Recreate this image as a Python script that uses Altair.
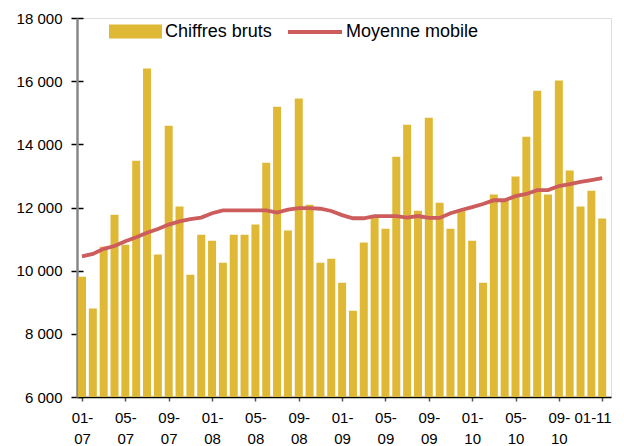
import altair as alt
import pandas as pd

# Monthly data, Jan 2007 -> Jan 2011
months = [f"{m:02d}-{y:02d}" for y in range(7, 12) for m in range(1, 13)][:49]
raw_values = [9810, 8800, 10760, 11770, 10820, 13480, 16400, 10510, 14590, 12030,
              9870, 11140, 10950, 10250, 11140, 11140, 11460, 13420, 15190, 11270,
              15450, 12090, 10250, 10380, 9620, 8730, 10890, 11710, 11330, 13610,
              14620, 11900, 14840, 12150, 11330, 11900, 10950, 9620, 12410, 12220,
              12980, 14240, 15700, 12410, 16020, 13170, 12030, 12530, 11650]
moving_avg = [10455, 10530, 10690, 10780, 10930, 11060, 11200, 11320, 11460, 11560,
              11630, 11680, 11820, 11910, 11910, 11910, 11910, 11910, 11840, 11930,
              11980, 11980, 11960, 11890, 11760, 11660, 11660, 11730, 11730, 11730,
              11680, 11730, 11670, 11670, 11820, 11920, 12010, 12110, 12230, 12230,
              12360, 12430, 12550, 12550, 12680, 12740, 12810, 12870, 12930]
x_tick_labels = [["01-", "07"], ["05-", "07"], ["09-", "07"],
                 ["01-", "08"], ["05-", "08"], ["09-", "08"],
                 ["01-", "09"], ["05-", "09"], ["09-", "09"],
                 ["01-", "10"], ["05-", "10"], ["09-", "10"],
                 ["01-11"]]
y_ticks = [6000, 8000, 10000, 12000, 14000, 16000, 18000]
bar_label = "Chiffres bruts"
line_label = "Moyenne mobile"

BAR_COLOR = "#DFB935"
LINE_COLOR = "#CD5C5C"
FONT = "Liberation Sans"

df = pd.DataFrame({
    "idx": list(range(len(months))),
    "mois": months,
    "brut": raw_values,
    "mm": moving_avg,
    "s_bar": bar_label,
    "s_line": line_label,
})

label_arr = "[" + ",".join("[" + ",".join(f"'{t}'" for t in lab) + "]" for lab in x_tick_labels) + "]"
x_expr = f"{label_arr}[round(datum.value/4)]"
y_expr = "replace(format(datum.value, ','), ',', ' ')"

x_scale = alt.Scale(domain=[0, 48.35], nice=False, zero=False)
y_scale = alt.Scale(domain=[6000, 18000], nice=False, zero=False)

x_axis_a = alt.Axis(orient="bottom", domain=False, offset=-5, tickSize=9, tickColor="#555555",
                    tickWidth=1.5, values=list(range(0, 49, 4)), labelExpr=x_expr,
                    labelFontSize=15, labelFont=FONT, labelColor="#000000", labelLineHeight=21.5,
                    labelPadding=9, labelFlush=False, labelOverlap=False, grid=False, title=None,
                    labelAlign={"condition": {"test": "datum.value == 48", "value": "right"},
                                "value": "center"},
                    labelOffset={"condition": {"test": "datum.value == 48", "value": 9},
                                 "value": 0})
x_axis_b = alt.Axis(orient="bottom", domain=True, domainColor="#000000", domainWidth=1.5,
                    ticks=False, labels=False, grid=False, title=None)
y_axis_a = alt.Axis(orient="left", domain=False, offset=-6, tickSize=12, tickColor="#000000",
                    tickWidth=1.5, values=y_ticks, labelExpr=y_expr, labelFontSize=15,
                    labelFont=FONT, labelColor="#000000", labelPadding=9, grid=False, title=None)
y_axis_b = alt.Axis(orient="left", domain=True, domainColor="#888888", domainWidth=2.5,
                    ticks=False, labels=False, grid=False, title=None)

bars = alt.Chart(df).mark_bar(size=8, clip=True, color=BAR_COLOR).encode(
    x=alt.X("idx:Q", scale=x_scale, axis=x_axis_a),
    y=alt.Y("brut:Q", scale=y_scale, axis=y_axis_a),
    color=alt.Color("s_bar:N", scale=alt.Scale(domain=[bar_label], range=[BAR_COLOR]),
                    legend=alt.Legend(orient="none", legendX=32, legendY=-13, title=None,
                                      symbolType="M-1,-0.264H1V0.264H-1Z", symbolSize=2809,
                                      symbolStrokeWidth=0, labelFontSize=18, labelFont=FONT,
                                      labelColor="#000000", labelOffset=3, padding=0)),
)

line = alt.Chart(df).mark_line(strokeWidth=3.8, color=LINE_COLOR).encode(
    x=alt.X("idx:Q", scale=x_scale, axis=x_axis_b),
    y=alt.Y("mm:Q", scale=y_scale, axis=y_axis_b),
    stroke=alt.Stroke("s_line:N", scale=alt.Scale(domain=[line_label], range=[LINE_COLOR]),
                      legend=alt.Legend(orient="none", legendX=209, legendY=-15, title=None,
                                        symbolType="stroke", symbolSize=2916, symbolStrokeWidth=4,
                                        labelFontSize=18, labelFont=FONT, labelColor="#000000",
                                        labelOffset=2, padding=0)),
)

chart = alt.layer(bars, line).resolve_axis(x="independent", y="independent").resolve_legend(
    color="independent", stroke="independent"
).properties(
    width=534, height=379,
    padding={"left": 69, "top": 10, "right": 5, "bottom": 49},
    autosize=alt.AutoSizeParams(type="none"),
).configure_view(strokeWidth=0).configure(font=FONT, background="white")

chart.save("out.html", embed_options={"renderer": "svg", "actions": False})
